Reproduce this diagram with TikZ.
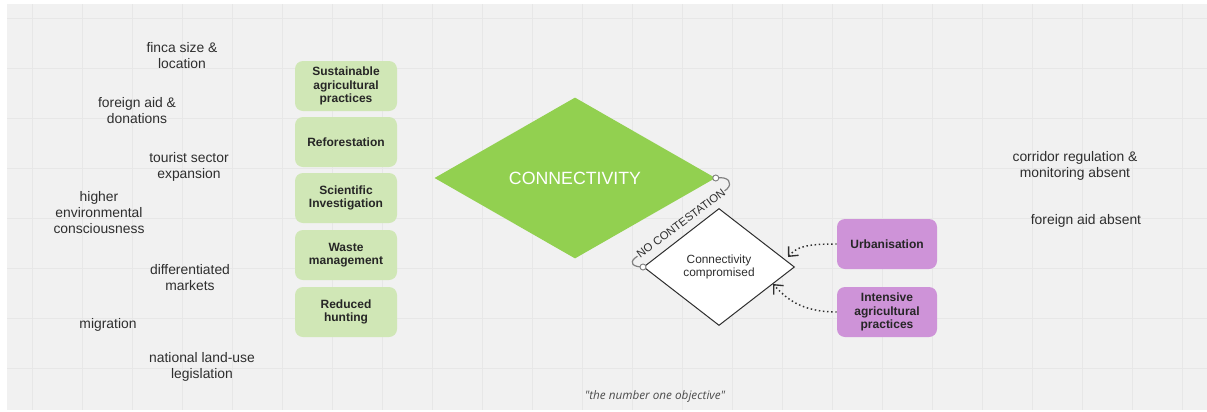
\documentclass[tikz,border=0pt]{standalone}
\usepackage{fontspec}
\setmainfont{Liberation Sans}
\newfontfamily\quotefont{Open Sans}
\usetikzlibrary{shapes.geometric,arrows.meta}

\definecolor{boardgray}{HTML}{F1F1F1}
\definecolor{gridgray}{HTML}{E7E7E7}
\definecolor{keepgreen}{HTML}{D0E7B6}
\definecolor{conngreen}{HTML}{92D050}
\definecolor{threatpurple}{HTML}{CE93D8}
\definecolor{inkgray}{HTML}{2E2E2E}

\begin{document}
\begin{tikzpicture}[
    % one unit is one pixel of the board, y runs downwards
    x=0.75pt, y=-0.75pt,
    % general settings
    align=center,
    text=inkgray,
    % nodes
    factor/.style={font=\fontsize{10.4}{12}\selectfont, inner sep=0pt},
    base/.style={rectangle, rounded corners=6pt, minimum width=76.5pt, minimum height=37.5pt,
                 inner sep=1pt, text=black!85, font=\fontsize{9}{10.1}\selectfont\bfseries},
    practice/.style={base, fill=keepgreen},
    threat/.style={base, fill=threatpurple, minimum width=75pt},
    goal/.style={diamond, fill=conngreen, minimum width=210.75pt, minimum height=120.75pt,
                 aspect=1.75, inner sep=0pt, text=white, font=\fontsize{13.3}{15}\selectfont},
    risk/.style={diamond, draw=inkgray, line width=0.75pt, fill=white, minimum width=113.25pt,
                 minimum height=87.75pt, aspect=1.3, inner sep=0pt, font=\fontsize{8.9}{9.6}\selectfont},
    port/.style={circle, draw=gray, line width=0.7pt, fill=white, inner sep=0pt, minimum size=4.5pt},
    % arrows
    cont/.style={gray, line width=0.9pt},
    infl/.style={inkgray, line width=1.1pt, dotted,
                 -{Straight Barb[length=5.5pt,width=10pt,line width=1pt]}}
  ]

  \pgfdeclarelayer{background}
  \pgfdeclarelayer{arrows}
  \pgfsetlayers{background,arrows,main}

  \begin{pgfonlayer}{background}
    \useasboundingbox (0,0) rectangle (1207,411);
    \fill[white] (0,0) rectangle (1207,411);
    \fill[boardgray] (7,4) rectangle (1207,410);
    \foreach \x in {32,82,...,1182}
      \draw[gridgray, line width=0.75pt] (\x,4) -- (\x,410);
    \foreach \y in {18,68,...,368}
      \draw[gridgray, line width=0.75pt] (7,\y) -- (1207,\y);
  \end{pgfonlayer}

  % factors on the left
  \node (finca)     [factor] at (182,56)  {finca size \&\\ location};
  \node (aid)       [factor] at (137,111) {foreign aid \&\\ donations};
  \node (tourism)   [factor] at (189,167) {tourist sector\\ expansion};
  \node (conscious) [factor] at (99,213)  {higher\\ environmental\\ consciousness};
  \node (markets)   [factor] at (190,278) {differentiated\\ markets};
  \node (migration) [factor] at (108,325) {migration};
  \node (landuse)   [factor] at (202,367) {national land-use\\ legislation};

  % practices
  \node (sustain)   [practice] at (346,86)  {Sustainable\\ agricultural\\ practices};
  \node (reforest)  [practice] at (346,142) {Reforestation};
  \node (science)   [practice] at (346,198) {Scientific\\ Investigation};
  \node (waste)     [practice] at (346,255) {Waste\\ management};
  \node (hunting)   [practice] at (346,312) {Reduced\\ hunting};

  % the two diamonds
  \node (connect)   [goal] at (575,178) {CONNECTIVITY};
  \node (comp)      [risk] at (719,267) {Connectivity\\ compromised};

  % threats
  \node (urban)     [threat] at (887,244) {Urbanisation};
  \node (intensive) [threat] at (887,312) {Intensive\\ agricultural\\ practices};

  % factors on the right
  \node (corridor)  [factor] at (1075,166) {corridor regulation \&\\ monitoring absent};
  \node (noaid)     [factor] at (1086,221) {foreign aid absent};

  \node (quote) at (655,396) {\quotefont\itshape\fontsize{8.8}{10}\selectfont\color{black!70}"the number one objective"};

  \coordinate (bendA)  at (727,189);
  \coordinate (bendB)  at (635,258);
  \coordinate (urbTip) at (788,257);
  \coordinate (intTip) at (773,284);

  \begin{pgfonlayer}{arrows}
    \draw[cont] (connect.east) .. controls +(13,-2) and +(6,-6) .. (bendA)
                -- node[sloped, fill=boardgray, inner sep=0.5pt, text=inkgray,
                        font=\fontsize{8.5}{9}\selectfont] {NO CONTESTATION} (bendB)
                .. controls +(-6,5) and +(-10,0) .. (comp.west);

    \draw[infl] (urban.west) .. controls +(-32,0) and +(9,-10) .. (urbTip);
    \draw[infl] (intensive.west) .. controls +(-38,0) and +(11,12) .. (intTip);
  \end{pgfonlayer}

  \node (portA) [port] at (connect.east) {};
  \node (portB) [port] at (comp.west) {};
\end{tikzpicture}
\end{document}
